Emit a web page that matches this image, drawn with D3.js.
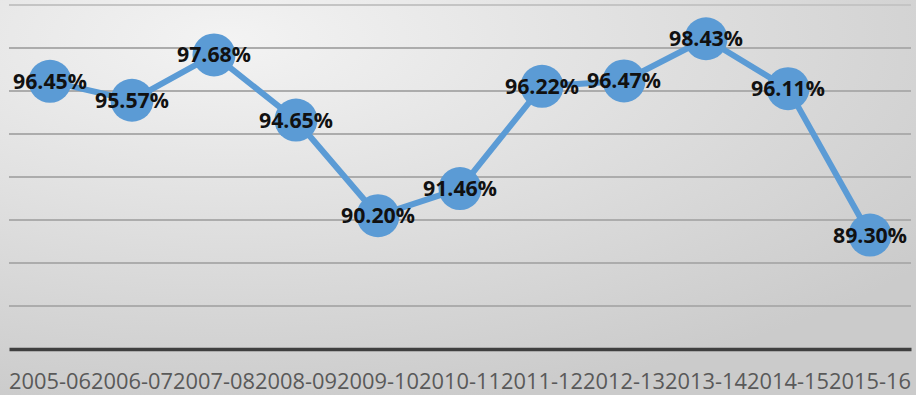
<!DOCTYPE html>
<html>
<head>
<meta charset="utf-8">
<script src="https://cdn.jsdelivr.net/npm/d3@7"></script>
<style>
  html, body { margin: 0; padding: 0; overflow: hidden; }
</style>
</head>
<body>
<div id="chart"></div>
<script>
// Chart data
const years = ["2005-06", "2006-07", "2007-08", "2008-09", "2009-10", "2010-11",
               "2011-12", "2012-13", "2013-14", "2014-15", "2015-16"];
const rates = [96.45, 95.57, 97.68, 94.65, 90.20, 91.46, 96.22, 96.47, 98.43, 96.11, 89.30];
const gridTicks = [86, 88, 90, 92, 94, 96, 98, 100];

const width = 916, height = 395;

const svg = d3.select("#chart").append("svg")
  .attr("width", width)
  .attr("height", height);

// Background gradient
const defs = svg.append("defs");
const grad = defs.append("radialGradient")
  .attr("id", "bg")
  .attr("cx", "25%").attr("cy", "10%").attr("r", "95%");
grad.append("stop").attr("offset", "0%").attr("stop-color", "#f3f3f3");
grad.append("stop").attr("offset", "100%").attr("stop-color", "#cbcbcb");

svg.append("rect")
  .attr("width", width)
  .attr("height", height)
  .attr("fill", "url(#bg)");

// Scales
const x = d3.scaleBand()
  .domain(years)
  .range([9, 911]);

const y = d3.scaleLinear()
  .domain([84, 100])
  .range([349, 5]);

// Gridlines
svg.append("g")
  .selectAll("line")
  .data(gridTicks)
  .enter()
  .append("line")
  .attr("x1", 9)
  .attr("x2", 911)
  .attr("y1", d => y(d))
  .attr("y2", d => y(d))
  .attr("stroke", d => d === 100 ? "#c4c4c4" : "#acacac")
  .attr("stroke-width", 2);

// Category axis
const xAxis = svg.append("g")
  .attr("transform", `translate(0,${y(84)})`)
  .call(d3.axisBottom(x).tickSize(0).tickPadding(0));
xAxis.select(".domain")
  .attr("stroke", "#3f3f3f")
  .attr("stroke-width", 3.5);
xAxis.selectAll("text")
  .attr("y", 40)
  .attr("dy", 0)
  .attr("fill", "#595959")
  .style("font-family", "'Open Sans', 'Liberation Sans', sans-serif")
  .style("font-size", "21px")
  .attr("textLength", x.bandwidth())
  .attr("lengthAdjust", "spacingAndGlyphs");

// Line
const line = d3.line()
  .x((d, i) => x(years[i]) + x.bandwidth() / 2)
  .y(d => y(d));

svg.append("path")
  .datum(rates)
  .attr("d", line)
  .attr("fill", "none")
  .attr("stroke", "#5b9bd5")
  .attr("stroke-width", 6)
  .attr("stroke-linejoin", "round");

// Markers
svg.selectAll("circle.pt")
  .data(rates)
  .enter()
  .append("circle")
  .attr("class", "pt")
  .attr("cx", (d, i) => x(years[i]) + x.bandwidth() / 2)
  .attr("cy", d => y(d))
  .attr("r", 21.5)
  .attr("fill", "#5b9bd5");

// Data labels
svg.selectAll("text.lbl")
  .data(rates)
  .enter()
  .append("text")
  .attr("class", "lbl")
  .attr("x", (d, i) => x(years[i]) + x.bandwidth() / 2)
  .attr("y", d => y(d))
  .attr("dy", "0.36em")
  .attr("text-anchor", "middle")
  .attr("fill", "#111")
  .style("font-family", "'Open Sans', 'Liberation Sans', sans-serif")
  .style("font-weight", "bold")
  .style("font-size", "21px")
  .attr("textLength", 74)
  .attr("lengthAdjust", "spacingAndGlyphs")
  .text(d => d.toFixed(2) + "%");
</script>
</body>
</html>
